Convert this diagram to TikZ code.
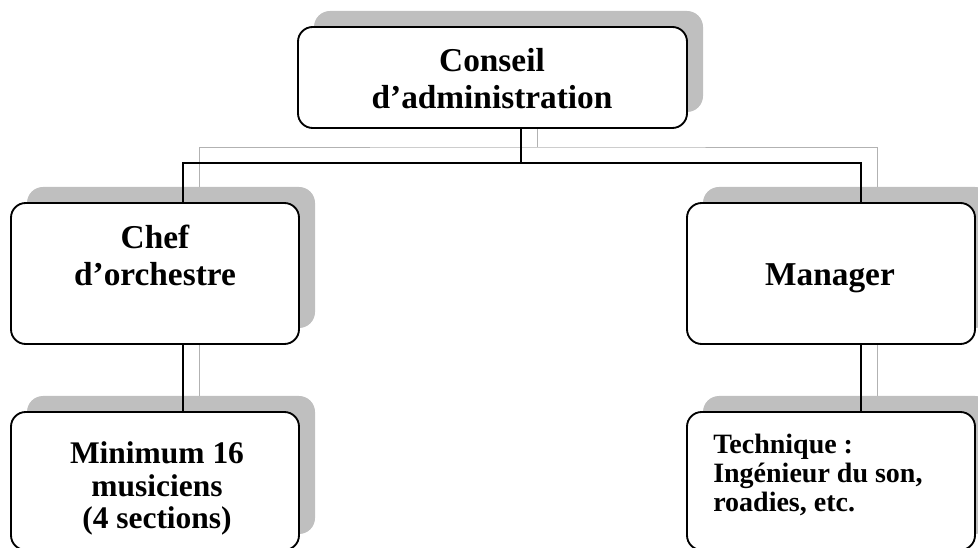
\documentclass[tikz,border=0pt]{standalone}
\usepackage{fontspec}
\setmainfont{Liberation Serif}
\usetikzlibrary{calc}
\begin{document}
\begin{tikzpicture}[x=0.75pt,y=-0.75pt,
  orgbox/.style={draw=black, line width=1.4pt, fill=white, rounded corners=11pt,
    inner sep=0pt, outer sep=0pt},
  shadebox/.style={fill=black!25, rounded corners=12pt, inner sep=0pt, outer sep=0pt},
  widebox/.style={minimum width=291.75pt, minimum height=75.75pt},
  midbox/.style={minimum width=216pt, minimum height=105.75pt},
  lowbox/.style={minimum width=216pt, minimum height=103.5pt},
  link/.style={line width=1.3pt, draw=black},
  shlink/.style={line width=0.7pt, draw=black!30},
  lbl/.style={font=\bfseries\fontsize{25}{27.75}\selectfont, align=center, inner sep=0pt},
  lbllow/.style={font=\bfseries\fontsize{23.6}{24}\selectfont, align=center, inner sep=0pt},
  lblsmall/.style={font=\bfseries\fontsize{21}{21.75}\selectfont, align=left, inner sep=0pt}]
\useasboundingbox (0,0) rectangle (978,548);
\clip (0,0) rectangle (978,548);

% shadows behind the boxes
\node[shadebox, widebox] (topS) at (508.5,61.5) {};
\node[shadebox, midbox]  (chefS) at (171,257.5) {};
\node[shadebox, midbox]  (manS) at (847,257.5) {};
\node[shadebox, lowbox]  (musS) at (171,465) {};
\node[shadebox, lowbox]  (tecS) at (847,465) {};

% shadow connectors
\coordinate (sj) at (537,147);
\draw[shlink] (topS.south -| sj) -- (sj);
\draw[shlink] (chefS.north -| 199,0) |- (sj) -| (manS.north -| 877,0);
\draw[shlink] (chefS.south -| 199,0) -- (musS.north -| 199,0);
\draw[shlink] (manS.south -| 877,0) -- (tecS.north -| 877,0);

% boxes
\node[orgbox, widebox] (top) at (492.5,77.5) {};
\node[orgbox, midbox]  (chef) at (155,273.5) {};
\node[orgbox, midbox]  (man) at (831,273.5) {};
\node[orgbox, lowbox]  (mus) at (155,481) {};
\node[orgbox, lowbox]  (tec) at (831,481) {};

% connectors
\coordinate (j) at (521,163);
\draw[link] (top.south -| j) -- (j);
\draw[link] (chef.north -| 183,0) |- (j) -| (man.north -| 861,0);
\draw[link] (chef.south -| 183,0) -- (mus.north -| 183,0);
\draw[link] (man.south -| 861,0) -- (tec.north -| 861,0);

% labels (base anchor sits on the last line)
\node[lbl, anchor=base] (tTop) at (492,109) {Conseil\\d’administration};
\node[lbl, anchor=base] (tChef) at (155,286) {Chef\\d’orchestre};
\node[lbl, anchor=base] (tMan) at (830,286) {Manager};
\node[lbllow, anchor=base] (tMus) at (157,528) {Minimum 16\\musiciens\\(4 sections)};
\node[lblsmall, anchor=base west] (tTec) at (713,512) {Technique :\\Ingénieur du son,\\roadies, etc.};
\end{tikzpicture}
\end{document}
